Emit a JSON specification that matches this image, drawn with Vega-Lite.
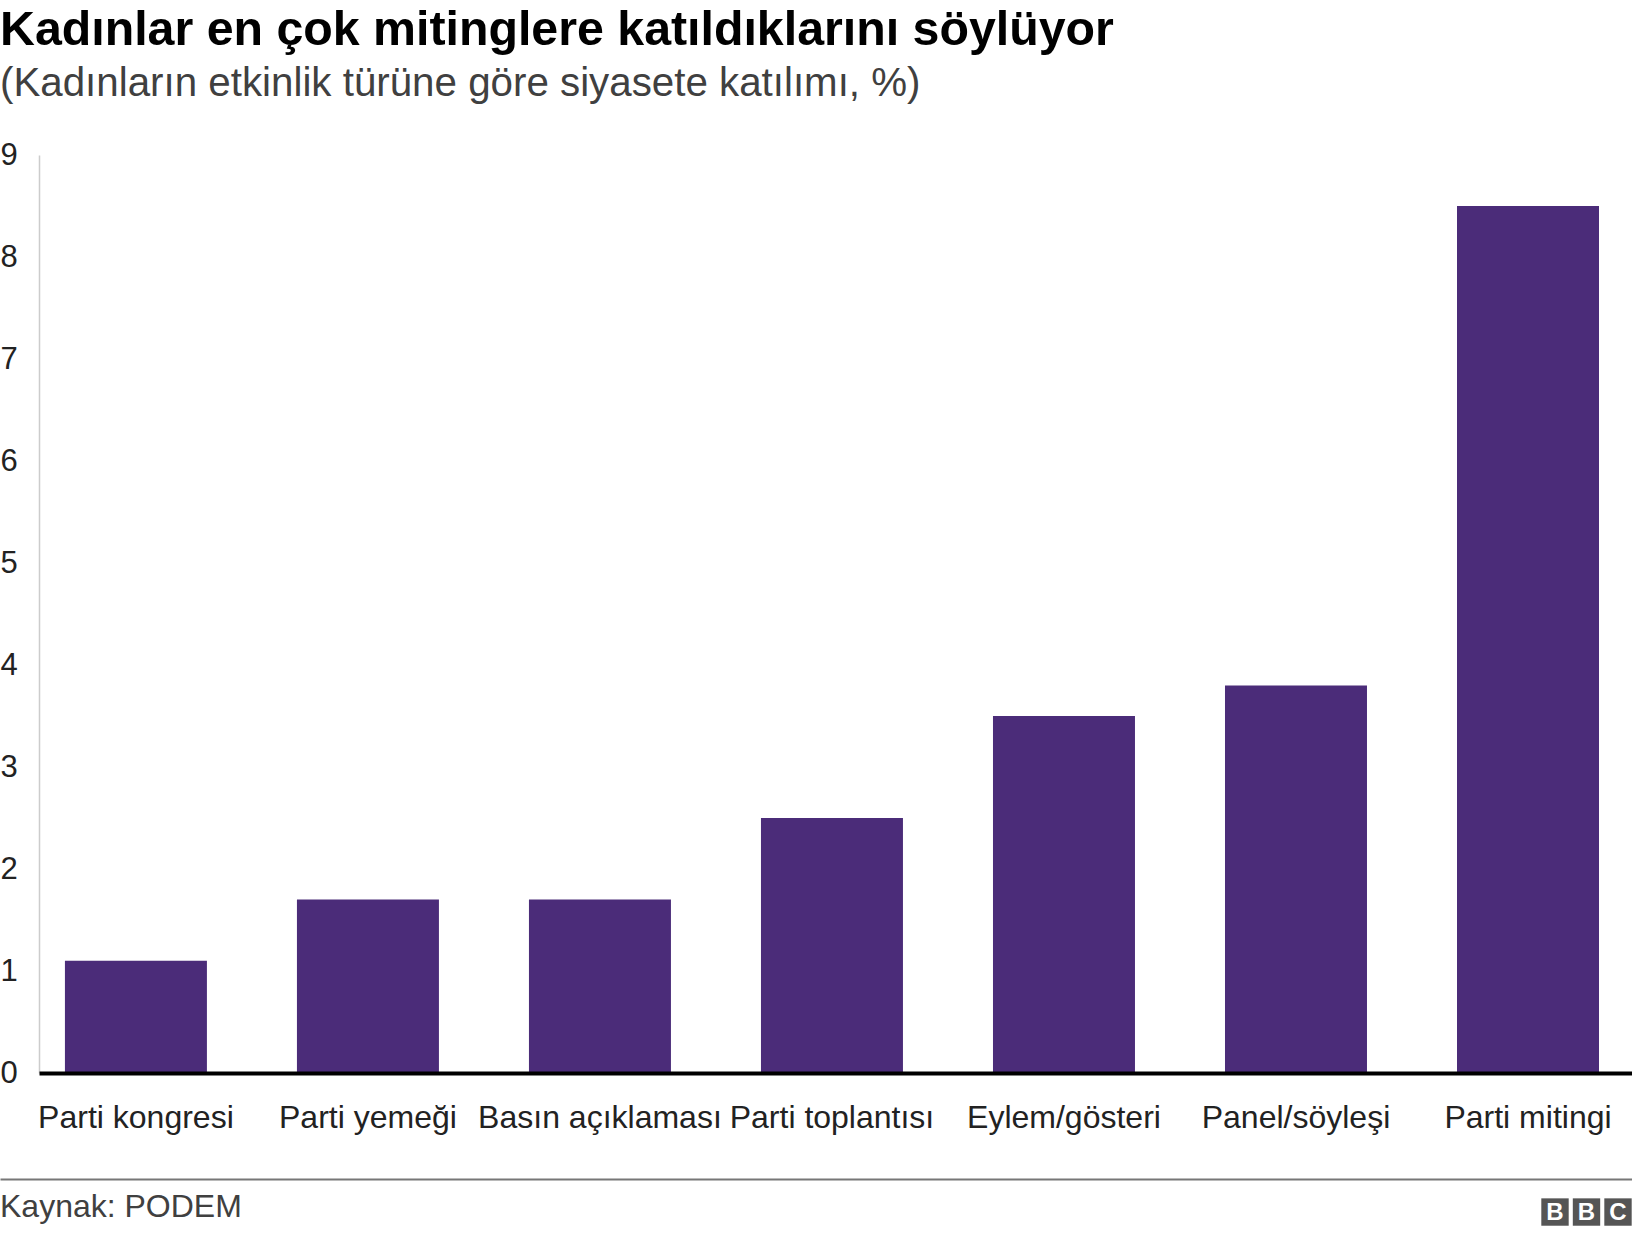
{
  "$schema": "https://vega.github.io/schema/vega-lite/v6.json",
  "padding": {"top": 6, "left": 0, "right": 0, "bottom": 0},
  "autosize": {"type": "pad"},
  "background": "white",
  "columns": 1,
  "align": "none",
  "spacing": 46,
  "config": {"view": {"stroke": null}, "font": "Liberation Sans"},
  "title": {
    "text": "Kadınlar en çok mitinglere katıldıklarını söylüyor",
    "subtitle": "(Kadınların etkinlik türüne göre siyasete katılımı, %)",
    "anchor": "start",
    "frame": "bounds",
    "font": "Liberation Sans",
    "fontSize": 48.3,
    "fontWeight": "bold",
    "color": "#000000",
    "subtitleFont": "Liberation Sans",
    "subtitleFontSize": 40.3,
    "subtitleColor": "#404040",
    "subtitlePadding": 8,
    "offset": 34
  },
  "concat": [
    {
      "width": 1593,
      "height": 918,
      "data": {"values": [
        {"type": "Parti kongresi", "value": 1.1},
        {"type": "Parti yemeği", "value": 1.7},
        {"type": "Basın açıklaması", "value": 1.7},
        {"type": "Parti toplantısı", "value": 2.5},
        {"type": "Eylem/gösteri", "value": 3.5},
        {"type": "Panel/söyleşi", "value": 3.8},
        {"type": "Parti mitingi", "value": 8.5}
      ]},
      "mark": {"type": "bar", "color": "#4B2C79"},
      "encoding": {
        "x": {
          "field": "type", "type": "nominal", "sort": null,
          "scale": {"paddingInner": 0.388, "paddingOuter": 0.127, "align": 0.44},
          "axis": {
            "title": null, "labelAngle": 0, "labelFontSize": 32, "labelColor": "#222222",
            "labelFont": "Liberation Sans", "labelBaseline": "alphabetic", "labelPadding": 54,
            "ticks": false, "tickSize": 0, "domainColor": "#000000", "domainWidth": 4,
            "labelOverlap": false, "labelLimit": 0, "zindex": 1
          }
        },
        "y": {
          "field": "value", "type": "quantitative",
          "scale": {"domain": [0, 9], "nice": false},
          "axis": {
            "title": null, "values": [0, 1, 2, 3, 4, 5, 6, 7, 8, 9], "grid": false,
            "ticks": false, "tickSize": 0, "labelAlign": "left", "labelPadding": 39,
            "labelFontSize": 31, "labelColor": "#222222", "labelBaseline": "middle",
            "labelFont": "Liberation Sans", "domainColor": "#cccccc", "domainWidth": 1.5,
            "labelFlush": false, "labelOverlap": false
          }
        }
      }
    },
    {
      "width": 1593,
      "height": 56,
      "layer": [
        {
          "data": {"values": [{"source": "Kaynak: PODEM"}]},
          "mark": {"type": "text", "align": "left", "baseline": "middle", "fontSize": 32, "color": "#404040", "font": "Liberation Sans"},
          "encoding": {
            "text": {"field": "source"},
            "x": {"datum": 0, "type": "quantitative", "scale": {"domain": [0, 1], "range": [-39, 1593]},
                  "axis": {"orient": "top", "domainColor": "#777777", "domainWidth": 2, "labels": false, "ticks": false, "title": null, "grid": false}},
            "y": {"datum": 0.5, "type": "quantitative", "scale": {"domain": [0, 1]}, "axis": null}
          }
        },
        {
          "data": {"values": [{"letter": "B", "i": 1}, {"letter": "B", "i": 2}, {"letter": "C", "i": 3}]},
          "encoding": {
            "x": {"field": "i", "type": "ordinal", "scale": {"type": "point", "range": [1516, 1579], "padding": 0}, "axis": null},
            "y": {"datum": 0.41, "type": "quantitative", "axis": null}
          },
          "layer": [
            {"mark": {"type": "square", "size": 750, "filled": true, "color": "#555555", "opacity": 1}},
            {"mark": {"type": "text", "color": "white", "fontWeight": "bold", "fontSize": 24, "baseline": "middle", "font": "Liberation Sans", "dy": 1},
             "encoding": {"text": {"field": "letter"}}}
          ]
        }
      ],
      "resolve": {"scale": {"x": "independent"}}
    }
  ]
}
